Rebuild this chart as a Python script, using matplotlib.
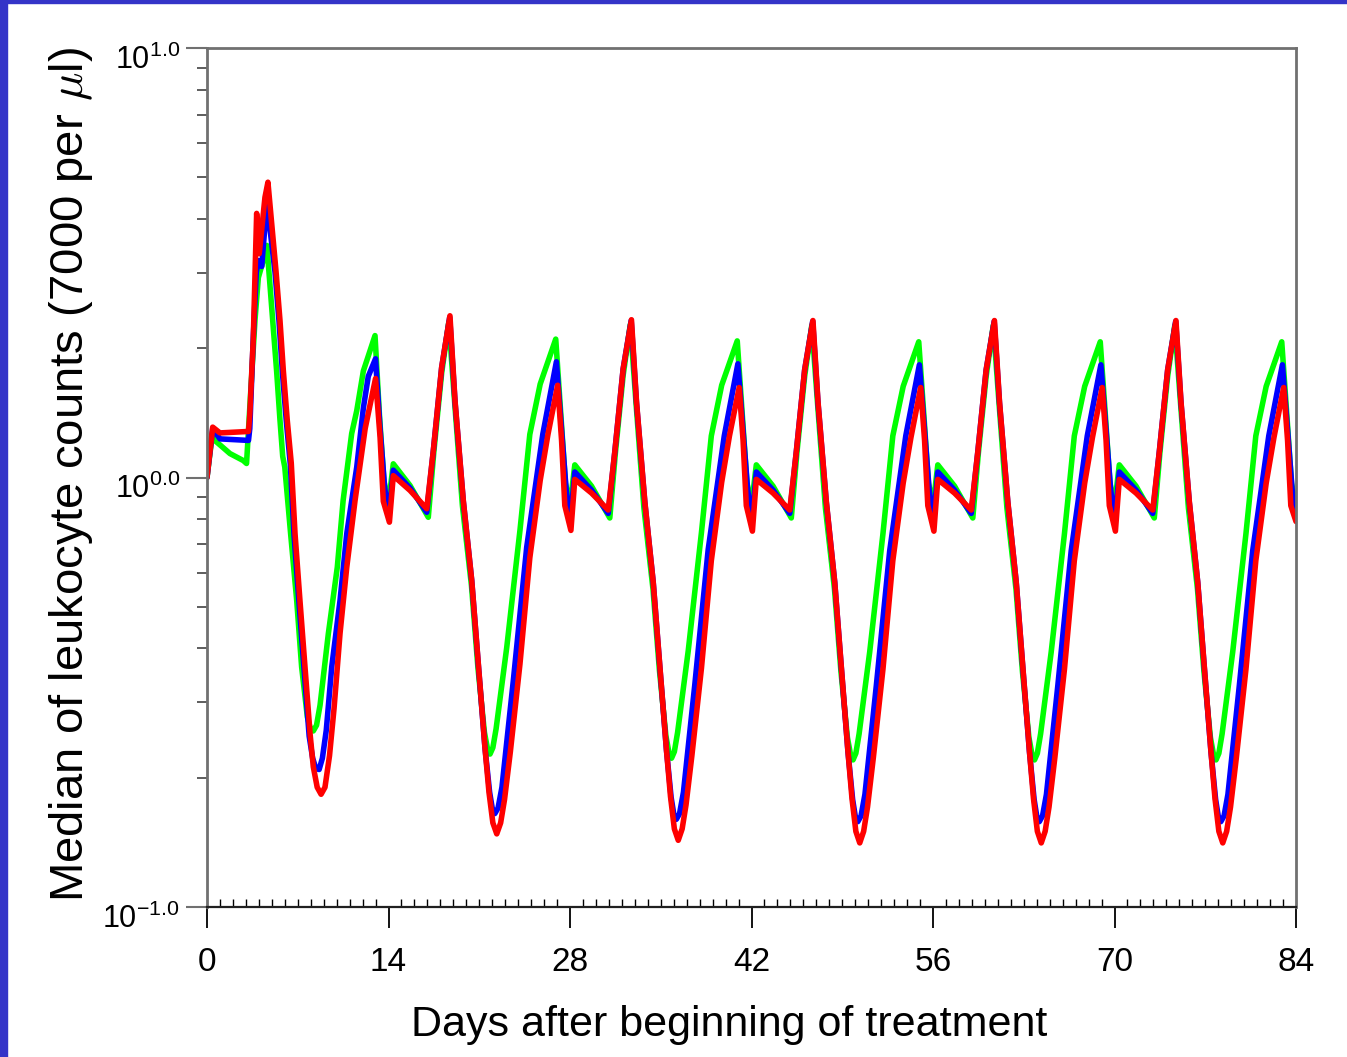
import matplotlib
matplotlib.use("Agg")
import matplotlib.pyplot as plt
from matplotlib.patches import Rectangle
from matplotlib.ticker import FixedLocator, NullFormatter

plt.rcParams['font.family'] = ['Liberation Sans', 'DejaVu Sans']
plt.rcParams['mathtext.fontset'] = 'cm'

# ---- data (days, median leukocyte count) ----
green_days = [
    0, 0.44, 0.6, 1.77, 2.8, 3.05, 3.32, 3.7, 3.96, 4.34, 4.62, 5.07, 5.37, 5.63, 5.84, 6.0,
    6.45, 6.92, 7.3, 7.74, 7.95, 8.2, 8.45, 8.72, 9.36, 10.05, 10.5, 11.16, 11.55, 12.06, 12.96,
    13.3, 13.65, 14.0, 14.37, 15.66, 17.07, 17.5, 18.1, 18.65, 19.1, 19.7, 20.4, 20.9, 21.4, 21.62, 21.83, 22.05, 22.3, 23.12, 24.14, 24.9, 25.7, 26.9,
    27.3, 27.65, 28.0, 28.37, 29.66, 31.07, 31.5, 32.1, 32.65, 33.1, 33.7, 34.4, 34.9, 35.4, 35.62, 35.83, 36.05, 36.3, 37.12, 38.14, 38.9, 39.7, 40.9,
    41.3, 41.65, 42.0, 42.37, 43.66, 45.07, 45.5, 46.1, 46.65, 47.1, 47.7, 48.4, 48.9, 49.4, 49.62, 49.83, 50.05, 50.3, 51.12, 52.14, 52.9, 53.7, 54.9,
    55.3, 55.65, 56.0, 56.37, 57.66, 59.07, 59.5, 60.1, 60.65, 61.1, 61.7, 62.4, 62.9, 63.4, 63.62, 63.83, 64.05, 64.3, 65.12, 66.14, 66.9, 67.7, 68.9,
    69.3, 69.65, 70.0, 70.37, 71.66, 73.07, 73.5, 74.1, 74.65, 75.1, 75.7, 76.4, 76.9, 77.4, 77.62, 77.83, 78.05, 78.3, 79.12, 80.14, 80.9, 81.7, 82.9,
    83.3, 83.65, 84.0,
]
green = [
    1.0, 1.28, 1.22, 1.137, 1.095, 1.078, 1.49, 2.32, 2.92, 3.2, 3.47, 2.32, 1.77, 1.36, 1.12, 1.057,
    0.74, 0.517, 0.362, 0.277, 0.262, 0.257, 0.265, 0.295, 0.433, 0.618, 0.884, 1.266, 1.43, 1.77, 2.14,
    1.40, 0.98, 0.87, 1.076, 0.958, 0.808, 1.15, 1.75, 2.30, 1.5, 0.86, 0.56, 0.36, 0.255, 0.235, 0.227, 0.235, 0.26, 0.402, 0.753, 1.26, 1.65, 2.10,
    1.39, 0.97, 0.86, 1.07, 0.955, 0.805, 1.14, 1.73, 2.27, 1.48, 0.85, 0.55, 0.355, 0.25, 0.23, 0.222, 0.23, 0.255, 0.395, 0.745, 1.25, 1.64, 2.08,
    1.39, 0.97, 0.86, 1.07, 0.955, 0.805, 1.14, 1.72, 2.26, 1.48, 0.85, 0.55, 0.353, 0.248, 0.228, 0.22, 0.228, 0.253, 0.393, 0.74, 1.25, 1.63, 2.07,
    1.39, 0.97, 0.86, 1.07, 0.955, 0.805, 1.14, 1.72, 2.26, 1.48, 0.85, 0.55, 0.353, 0.248, 0.228, 0.22, 0.228, 0.253, 0.393, 0.74, 1.25, 1.63, 2.07,
    1.39, 0.97, 0.86, 1.07, 0.955, 0.805, 1.14, 1.72, 2.26, 1.48, 0.85, 0.55, 0.353, 0.248, 0.228, 0.22, 0.228, 0.253, 0.393, 0.74, 1.25, 1.63, 2.07,
    1.39, 0.97, 0.86,
]

blue_days = [
    0, 0.44, 1.0, 3.2, 3.3, 3.57, 3.8, 3.96, 4.22, 4.62, 5.25, 5.56, 5.82, 6.12, 6.43, 6.72,
    7.1, 7.49, 7.88, 8.15, 8.4, 8.65, 8.9, 9.2, 9.62, 10.26, 10.78, 11.55, 12.06, 12.44, 13.0,
    13.35, 13.7, 14.03, 14.37, 15.66, 16.95, 17.46, 18.1, 18.72, 19.13, 19.77, 20.42, 20.93, 21.44, 21.8, 22.0, 22.2, 22.45, 22.75, 23.63, 24.66, 25.9, 26.95,
    27.35, 27.7, 28.03, 28.37, 29.66, 30.95, 31.46, 32.1, 32.72, 33.13, 33.77, 34.42, 34.93, 35.44, 35.8, 36.0, 36.2, 36.45, 36.75, 37.63, 38.66, 39.9, 40.95,
    41.35, 41.7, 42.03, 42.37, 43.66, 44.95, 45.46, 46.1, 46.72, 47.13, 47.77, 48.42, 48.93, 49.44, 49.8, 50.0, 50.2, 50.45, 50.75, 51.63, 52.66, 53.9, 54.95,
    55.35, 55.7, 56.03, 56.37, 57.66, 58.95, 59.46, 60.1, 60.72, 61.13, 61.77, 62.42, 62.93, 63.44, 63.8, 64.0, 64.2, 64.45, 64.75, 65.63, 66.66, 67.9, 68.95,
    69.35, 69.7, 70.03, 70.37, 71.66, 72.95, 73.46, 74.1, 74.72, 75.13, 75.77, 76.42, 76.93, 77.44, 77.8, 78.0, 78.2, 78.45, 78.75, 79.63, 80.66, 81.9, 82.95,
    83.35, 83.7, 84.0,
]
blue = [
    1.0, 1.30, 1.23, 1.22, 1.3, 2.12, 3.0, 3.2, 3.1, 4.38, 3.0, 2.3, 1.75, 1.35, 1.07, 0.73,
    0.51, 0.356, 0.25, 0.222, 0.21, 0.209, 0.222, 0.258, 0.362, 0.517, 0.74, 1.057, 1.45, 1.72, 1.89,
    1.30, 0.95, 0.81, 1.04, 0.945, 0.83, 1.155, 1.8, 2.36, 1.5, 0.88, 0.575, 0.366, 0.235, 0.185, 0.17, 0.165, 0.17, 0.19, 0.337, 0.688, 1.26, 1.86,
    1.29, 0.94, 0.79, 1.03, 0.935, 0.825, 1.15, 1.79, 2.32, 1.49, 0.875, 0.57, 0.362, 0.232, 0.18, 0.165, 0.160, 0.165, 0.185, 0.33, 0.68, 1.25, 1.84,
    1.29, 0.94, 0.79, 1.03, 0.935, 0.825, 1.15, 1.78, 2.31, 1.49, 0.875, 0.57, 0.36, 0.23, 0.178, 0.163, 0.158, 0.163, 0.183, 0.328, 0.675, 1.25, 1.83,
    1.29, 0.94, 0.79, 1.03, 0.935, 0.825, 1.15, 1.78, 2.31, 1.49, 0.875, 0.57, 0.36, 0.23, 0.178, 0.163, 0.158, 0.163, 0.183, 0.328, 0.675, 1.25, 1.83,
    1.29, 0.94, 0.79, 1.03, 0.935, 0.825, 1.15, 1.78, 2.31, 1.49, 0.875, 0.57, 0.36, 0.23, 0.178, 0.163, 0.158, 0.163, 0.183, 0.328, 0.675, 1.25, 1.83,
    1.29, 0.94, 0.80,
]

red_days = [
    0, 0.44, 1.0, 3.2, 3.3, 3.57, 3.83, 4.03, 4.47, 4.7, 5.32, 5.63, 5.89, 6.19, 6.5, 6.79,
    7.17, 7.56, 7.95, 8.2, 8.5, 8.8, 9.1, 9.45, 9.8, 10.26, 10.78, 11.42, 12.2, 13.0,
    13.35, 13.6, 14.07, 14.37, 15.66, 16.95, 17.46, 18.1, 18.74, 19.13, 19.77, 20.42, 20.93, 21.44, 21.75, 22.05, 22.35, 22.65, 22.95, 23.4, 24.14, 24.9, 25.7, 26.3, 27.05,
    27.35, 27.6, 28.07, 28.37, 29.66, 30.95, 31.46, 32.1, 32.74, 33.13, 33.77, 34.42, 34.93, 35.44, 35.75, 36.05, 36.35, 36.65, 36.95, 37.4, 38.14, 38.9, 39.7, 40.3, 41.05,
    41.35, 41.6, 42.07, 42.37, 43.66, 44.95, 45.46, 46.1, 46.74, 47.13, 47.77, 48.42, 48.93, 49.44, 49.75, 50.05, 50.35, 50.65, 50.95, 51.4, 52.14, 52.9, 53.7, 54.3, 55.05,
    55.35, 55.6, 56.07, 56.37, 57.66, 58.95, 59.46, 60.1, 60.74, 61.13, 61.77, 62.42, 62.93, 63.44, 63.75, 64.05, 64.35, 64.65, 64.95, 65.4, 66.14, 66.9, 67.7, 68.3, 69.05,
    69.35, 69.6, 70.07, 70.37, 71.66, 72.95, 73.46, 74.1, 74.74, 75.13, 75.77, 76.42, 76.93, 77.44, 77.75, 78.05, 78.35, 78.65, 78.95, 79.4, 80.14, 80.9, 81.7, 82.3, 83.05,
    83.35, 83.6, 84.0,
]
red = [
    1.0, 1.31, 1.27, 1.28, 1.4, 2.1, 4.12, 3.32, 4.49, 4.87, 3.03, 2.32, 1.77, 1.36, 1.08, 0.74,
    0.517, 0.362, 0.253, 0.212, 0.19, 0.183, 0.19, 0.225, 0.29, 0.433, 0.618, 0.884, 1.3, 1.70,
    1.24, 0.88, 0.787, 1.01, 0.933, 0.846, 1.156, 1.806, 2.38, 1.51, 0.884, 0.576, 0.368, 0.235, 0.185, 0.157, 0.148, 0.157, 0.178, 0.23, 0.368, 0.65, 0.984, 1.26, 1.64,
    1.22, 0.86, 0.753, 0.99, 0.92, 0.84, 1.15, 1.79, 2.33, 1.5, 0.88, 0.57, 0.365, 0.232, 0.181, 0.152, 0.143, 0.152, 0.173, 0.225, 0.36, 0.64, 0.975, 1.25, 1.62,
    1.22, 0.86, 0.75, 0.99, 0.92, 0.84, 1.15, 1.78, 2.32, 1.5, 0.88, 0.57, 0.363, 0.23, 0.179, 0.150, 0.141, 0.150, 0.171, 0.223, 0.358, 0.64, 0.97, 1.24, 1.62,
    1.22, 0.86, 0.75, 0.99, 0.92, 0.84, 1.15, 1.78, 2.32, 1.5, 0.88, 0.57, 0.363, 0.23, 0.179, 0.150, 0.141, 0.150, 0.171, 0.223, 0.358, 0.64, 0.97, 1.24, 1.62,
    1.22, 0.86, 0.75, 0.99, 0.92, 0.84, 1.15, 1.78, 2.32, 1.5, 0.88, 0.57, 0.363, 0.23, 0.179, 0.150, 0.141, 0.150, 0.171, 0.223, 0.358, 0.64, 0.97, 1.24, 1.62,
    1.22, 0.86, 0.79,
]

x_ticks = [0, 14, 28, 42, 56, 70, 84]
y_ticks = [0.1, 1.0, 10.0]
y_ticklabels = [r'$\mathregular{10^{-1.0}}$', r'$\mathregular{10^{0.0}}$', r'$\mathregular{10^{1.0}}$']

W, H = 1347, 1057
fig = plt.figure(figsize=(W / 100, H / 100), dpi=100)
fig.patch.set_facecolor('white')

# blue slide frame on the left and top
border = '#3434c8'
fig.add_artist(Rectangle((0, 0), 7 / W, 1, transform=fig.transFigure, color=border, zorder=0))
fig.add_artist(Rectangle((0, 1 - 3 / H), 1, 3 / H, transform=fig.transFigure, color=border, zorder=0))

ax = fig.add_axes([207 / W, 1 - 907 / H, (1296 - 207) / W, (907 - 48) / H])

lw = 4.0
ax.plot(green_days, green, color='#00ff00', lw=lw, solid_joinstyle='round', solid_capstyle='round')
ax.plot(blue_days, blue, color='#0000ff', lw=lw, solid_joinstyle='round', solid_capstyle='round')
ax.plot(red_days, red, color='#ff0000', lw=lw, solid_joinstyle='round', solid_capstyle='round')

ax.set_yscale('log')
ax.set_ylim(0.1, 10)
ax.set_xlim(0, 84)

# x axis: long ticks outside at 14-day marks, short daily ticks inside
ax.xaxis.set_major_locator(FixedLocator(x_ticks))
ax.xaxis.set_minor_locator(FixedLocator(list(range(0, 85))))
ax.tick_params(axis='x', which='major', direction='out', length=15, width=1.3,
               color='black', labelsize=24, pad=14)
ax.tick_params(axis='x', which='minor', direction='in', length=6, width=1.0, color='black')

# y axis: ticks only, the power labels sit a little below their tick
ax.yaxis.set_major_locator(FixedLocator(y_ticks))
ax.yaxis.set_major_formatter(NullFormatter())
ax.yaxis.set_minor_locator(FixedLocator([m * d for d in (0.1, 1.0) for m in range(2, 10)]))
ax.yaxis.set_minor_formatter(NullFormatter())
ax.tick_params(axis='y', which='major', direction='out', length=15, width=1.5, color='#707070')
ax.tick_params(axis='y', which='minor', direction='out', length=7, width=1.3, color='#505050')

for val, lab in zip(y_ticks, y_ticklabels):
    ax.annotate(lab, xy=(0, val), xycoords=('axes fraction', 'data'),
                xytext=(-27, -21), textcoords='offset pixels',
                fontsize=22, ha='right', va='baseline', annotation_clip=False)

for side in ('left', 'top', 'right'):
    ax.spines[side].set_color('#707070')
    ax.spines[side].set_linewidth(2.0)
ax.spines['bottom'].set_color('#202020')
ax.spines['bottom'].set_linewidth(1.6)

fig.text(729 / W, 1 - 1036 / H, 'Days after beginning of treatment', fontsize=31,
         ha='center', va='baseline')
fig.text(83 / W, 1 - 475 / H, r'Median of leukocyte counts (7000 per $\mu$l)', fontsize=34,
         rotation=90, rotation_mode='anchor', ha='center', va='baseline')

fig.savefig('out.png', dpi=100)
